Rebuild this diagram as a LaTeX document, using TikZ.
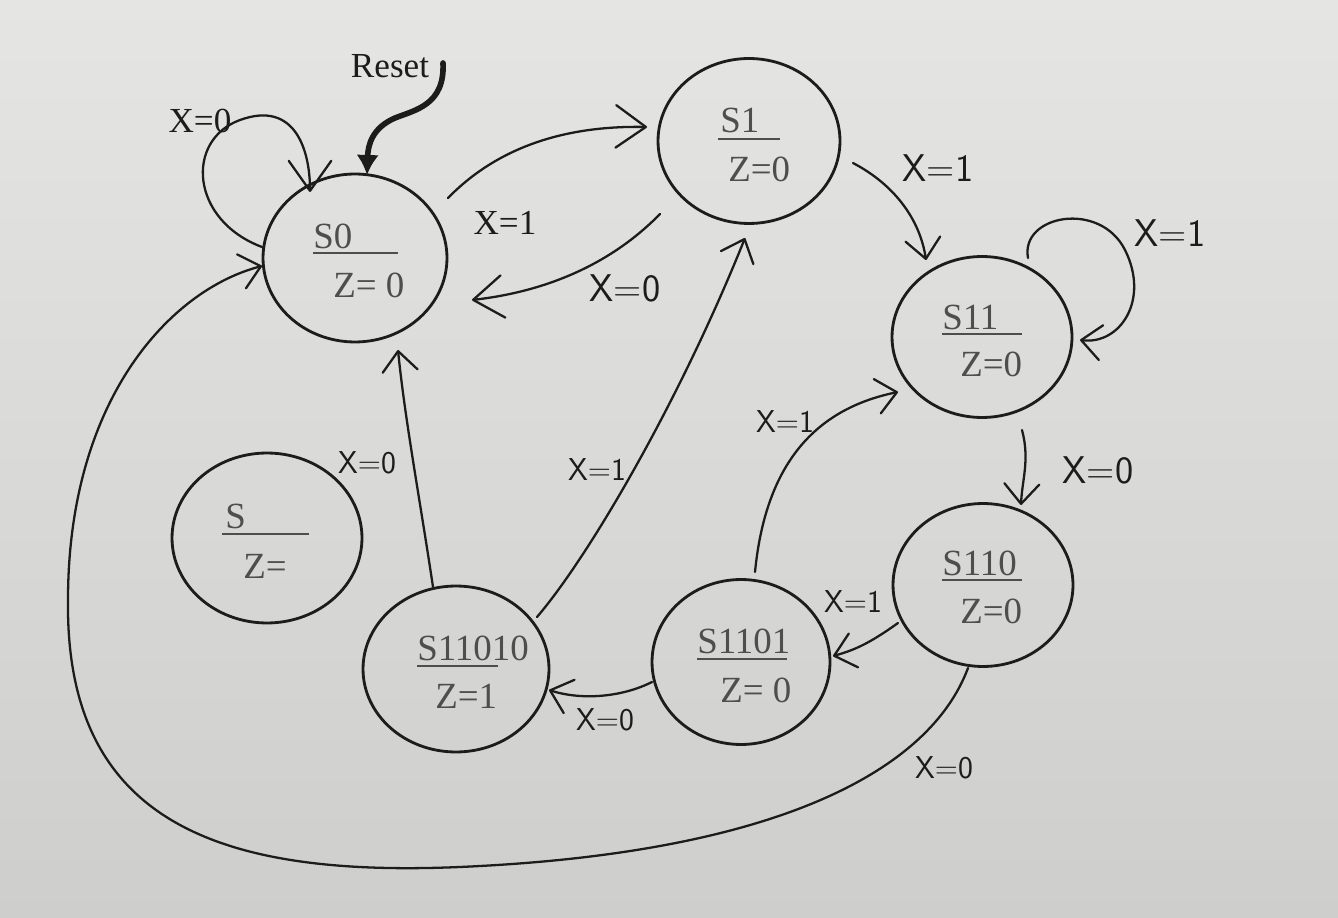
\documentclass[tikz,border=0pt]{standalone}
\usepackage{fontspec}
\setmainfont{Liberation Serif}
\usetikzlibrary{arrows.meta,shapes.geometric,calc}
\definecolor{paperA}{RGB}{229,229,227}
\definecolor{paperB}{RGB}{206,206,204}
\definecolor{ink}{RGB}{28,28,28}
\definecolor{printc}{RGB}{78,78,78}
\begin{document}
\begin{tikzpicture}[x=0.02cm,y=-0.02cm,
  state/.style={ellipse,draw=ink,line width=1.6pt,inner sep=0pt},
  edge/.style={draw=ink,line width=1.3pt,line cap=round,-{Straight Barb[length=0.4cm,width=0.7cm,round]}},
  bigtip/.style={-{Straight Barb[length=0.6cm,width=0.85cm,round]}},
  resetedge/.style={draw=ink,line width=3.2pt,line cap=round,-{Latex[length=0.4cm,width=0.45cm]}},
  sname/.style={anchor=base west,inner sep=0pt,text=printc,font=\fontsize{21}{24}\selectfont},
  uline/.style={draw=printc,line width=1.2pt},
  plab/.style={inner sep=0pt,text=ink,font=\fontsize{20}{24}\selectfont},
  hlab/.style={inner sep=0pt,text=ink,font=\sffamily\fontsize{18}{20}\selectfont},
  hlabL/.style={inner sep=0pt,text=ink,font=\sffamily\fontsize{22}{24}\selectfont},
]
\shade[top color=paperA,bottom color=paperB] (0,0) rectangle (1338,918);
\path[use as bounding box] (0,0) rectangle (1338,918);

% states
\node[state,minimum width=3.68cm,minimum height=3.36cm] (s0) at (355,258) {};
\node[state,minimum width=3.64cm,minimum height=3.3cm] (s1) at (749,141) {};
\node[state,minimum width=3.6cm,minimum height=3.22cm] (s11) at (982,337) {};
\node[state,minimum width=3.6cm,minimum height=3.26cm] (s110) at (983,585) {};
\node[state,minimum width=3.56cm,minimum height=3.3cm] (s1101) at (741,662) {};
\node[state,minimum width=3.72cm,minimum height=3.32cm] (s11010) at (456,669) {};
\node[state,minimum width=3.8cm,minimum height=3.4cm] (s) at (267,538) {};

% state texts
\node[sname] (s0n) at (313,249) {S0};
\draw[uline] (313,253) -- (398,253);
\node[sname] (s0z) at (333,298) {Z= 0};
\node[sname] (s1n) at (720,133) {S1};
\draw[uline] (718,139) -- (780,139);
\node[sname] (s1z) at (728,182) {Z=0};
\node[sname] (s11n) at (942,330) {S11};
\draw[uline] (942,334) -- (1022,334);
\node[sname] (s11z) at (960,377) {Z=0};
\node[sname] (s110n) at (942,575) {S110};
\draw[uline] (942,580) -- (1022,580);
\node[sname] (s110z) at (960,623) {Z=0};
\node[sname] (s1101n) at (697,653) {S1101};
\draw[uline] (697,659) -- (787,659);
\node[sname] (s1101z) at (720,702) {Z= 0};
\node[sname] (s11010n) at (417,660) {S11010};
\draw[uline] (417,666) -- (498,666);
\node[sname] (s11010z) at (435,708) {Z=1};
\node[sname] (sn) at (225,528) {S};
\draw[uline] (222,534) -- (309,534);
\node[sname] (sz) at (243,578) {Z=};

% reset
\coordinate (rst) at (443,63);
\node[plab] (rl) at (390,66) {Reset};
\draw[resetedge] (rst) .. controls (445,105) and (415,110) .. (395,118)
  .. controls (372,128) and (368,145) .. ($(s0)+(12,-83)$);

% S0 self loop
\draw[edge,bigtip] ($(s0)+(-93,-11)$) .. controls (190,220) and (185,140) .. (240,120)
  .. controls (295,100) and (310,150) .. ($(s0)+(-45,-66)$);
\node[plab] (l1) at (200,121) {X=0};

% S0 -> S1
\draw[edge,bigtip] ($(s0)+(93,-60)$) .. controls (485,160) and (545,125) .. ($(s1)+(-102,-14)$);
\node[plab] (l3) at (505,223) {X=1};

% S1 -> S0
\draw[edge,bigtip] ($(s1)+(-89,73)$) .. controls (620,255) and (560,290) .. ($(s0)+(117,42)$);
\node[hlabL] (l4) at (625,288) {X=0};

% S1 -> S11
\draw[edge] ($(s1)+(104,22)$) .. controls (895,185) and (920,220) .. ($(s11)+(-56,-77)$);
\node[hlabL] (l5) at (938,168) {X=1};

% S11 self loop
\draw[edge] ($(s11)+(46,-79)$) .. controls (1020,215) and (1100,200) .. (1125,250)
  .. controls (1150,300) and (1120,345) .. ($(s11)+(98,3)$);
\node[hlabL] (l6) at (1170,233) {X=1};

% S11 -> S110
\draw[edge] ($(s11)+(40,93)$) .. controls (1030,460) and (1022,480) .. ($(s110)+(38,-80)$);
\node[hlabL] (l7) at (1098,470) {X=0};

% S110 -> S1101
\draw[edge] ($(s110)+(-85,38)$) .. controls (870,643) and (855,650) .. ($(s1101)+(92,-6)$);
\node[hlab] (l8) at (853,602) {X=1};

% S1101 -> S11010
\draw[edge] ($(s1101)+(-89,20)$) .. controls (620,698) and (580,700) .. ($(s11010)+(93,21)$);
\node[hlab] (l9) at (605,720) {X=0};

% S11010 -> S0
\draw[edge] ($(s11010)+(-23,-82)$) .. controls (420,500) and (405,420) .. ($(s0)+(43,92)$);
\node[hlab] (l10) at (367,463) {X=0};

% S11010 -> S1
\draw[edge] ($(s11010)+(81,-52)$) .. controls (590,555) and (680,400) .. ($(s1)+(-4,97)$);
\node[hlab] (l11) at (597,470) {X=1};

% S1101 -> S11
\draw[edge] ($(s1101)+(14,-90)$) .. controls (765,470) and (810,410) .. ($(s11)+(-84,55)$);
\node[hlab] (l12) at (785,422) {X=1};

% S110 -> S0 (long loop)
\draw[edge] ($(s110)+(-15,83)$) .. controls (930,770) and (780,850) .. (480,866)
  .. controls (230,880) and (65,830) .. (68,600)
  .. controls (68,400) and (170,290) .. ($(s0)+(-93,8)$);
\node[hlab] (l13) at (944,768) {X=0};
\end{tikzpicture}
\end{document}
